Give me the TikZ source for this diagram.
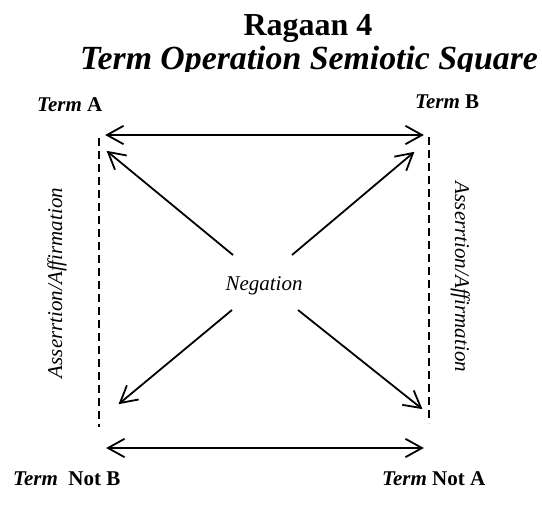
\documentclass[tikz,border=0pt]{standalone}
\usepackage{fontspec}
\setmainfont{Liberation Serif}
\usetikzlibrary{calc}
\tikzset{
  ln/.style={line width=1.8pt,line join=miter,line cap=butt},
  dline/.style={line width=1.8pt,dash pattern=on 8pt off 5pt},
  lbl/.style={inner sep=0pt,font=\fontsize{21}{23}\selectfont\bfseries},
  vlbl/.style={inner sep=0pt,font=\fontsize{21}{24}\selectfont\itshape},
  ttl/.style={inner sep=0pt,font=\fontsize{32}{36}\selectfont\bfseries},
  ttlb/.style={inner sep=0pt,font=\fontsize{33.8}{38}\selectfont\bfseries\itshape}
}
\newcommand{\vhead}[2]{\draw[ln] ($(#1)!19pt!29:(#2)$) -- (#1) -- ($(#1)!19pt!-29:(#2)$);}
\begin{document}
\begin{tikzpicture}[x=1pt,y=-1pt]
\useasboundingbox (0,0) rectangle (542,506);
\node[ttl,anchor=base] (t1) at (308,35) {Ragaan 4};
\begin{scope}
\clip (0,0) rectangle (542,71);
\node[ttlb,anchor=base] (t2) at (309,69) {Term Operation Semiotic Square};
\end{scope}
\node[lbl,anchor=base west] (ta) at (37,111) {\textit{Term} A};
\node[lbl,anchor=base west] (tb) at (415,108) {\textit{Term} B};
\node[lbl,anchor=base west] (tnb) at (13,485) {\textit{Term}\ \ Not B};
\node[lbl,anchor=base west] (tna) at (382,485) {\textit{Term} Not A};
\node[vlbl,anchor=base,rotate=90] (vl) at (62,283) {Asserrtion/Affirmation};
\node[vlbl,anchor=base,rotate=-90] (vr) at (455,277) {Asserrtion/Affirmation};
\node[vlbl,anchor=base] (neg) at (264,290) {Negation};
\coordinate (tl) at (107,135); \coordinate (tr) at (422,135);
\coordinate (bl) at (108,448); \coordinate (br) at (422,448);
\coordinate (l1) at (99,138); \coordinate (l2) at (99,427);
\coordinate (r1) at (429,137); \coordinate (r2) at (429,423);
\coordinate (c1) at (233,255); \coordinate (d1) at (108,152);
\coordinate (c2) at (292,255); \coordinate (d2) at (413,153);
\coordinate (c3) at (232,310); \coordinate (d3) at (120,403);
\coordinate (c4) at (298,310); \coordinate (d4) at (421,408);
\draw[ln] (tl) -- (tr); \vhead{tl}{tr} \vhead{tr}{tl}
\draw[ln] (bl) -- (br); \vhead{bl}{br} \vhead{br}{bl}
\draw[dline] (l1) -- (l2);
\draw[dline] (r1) -- (r2);
\draw[ln] (c1) -- (d1); \vhead{d1}{c1}
\draw[ln] (c2) -- (d2); \vhead{d2}{c2}
\draw[ln] (c3) -- (d3); \vhead{d3}{c3}
\draw[ln] (c4) -- (d4); \vhead{d4}{c4}
\end{tikzpicture}
\end{document}
